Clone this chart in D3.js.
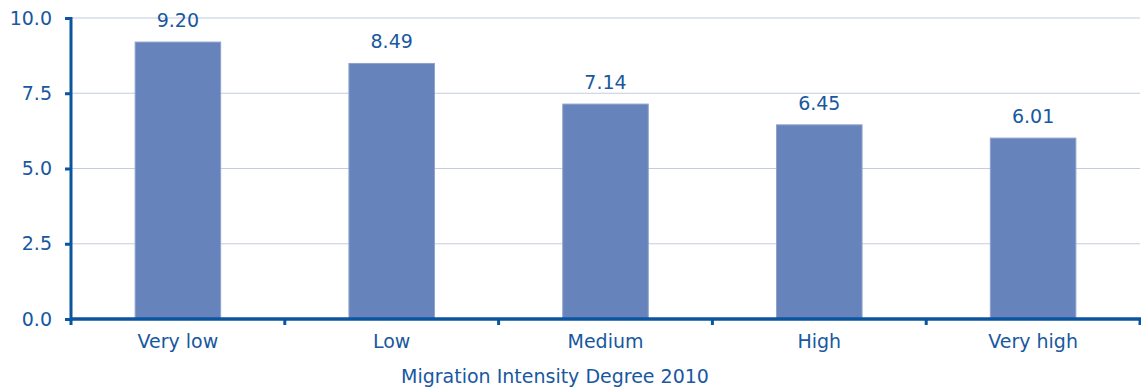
<!DOCTYPE html>
<html>
<head>
<meta charset="utf-8">
<script src="https://cdn.jsdelivr.net/npm/d3@7"></script>
<style>
  html, body { margin: 0; padding: 0; background: #fff; }
  svg { display: block; }
  text { font-family: "DejaVu Sans", Verdana, sans-serif; fill: #1858a0; }
</style>
</head>
<body>
<svg id="chart" width="1141" height="387"></svg>
<script>
// Migration intensity categories and their values
const categories = ["Very low", "Low", "Medium", "High", "Very high"];
const values = [9.20, 8.49, 7.14, 6.45, 6.01];
const yTicks = [0, 2.5, 5, 7.5, 10];
const xTitle = "Migration Intensity Degree 2010";

const svg = d3.select("#chart");
const axisColor = "#0b55a0";
const plotLeft = 71, plotRight = 1140, plotTop = 18, plotBottom = 319;

const x = d3.scaleBand().domain(categories).range([plotLeft, plotRight]).padding(0);
const y = d3.scaleLinear().domain([0, 10]).range([plotBottom, plotTop]);

// horizontal gridlines
svg.append("g").selectAll("line")
  .data(yTicks.filter(d => d > 0))
  .join("line")
  .attr("x1", plotLeft).attr("x2", plotRight)
  .attr("y1", d => y(d)).attr("y2", d => y(d))
  .attr("stroke", "#c4cce0").attr("stroke-width", 1.2);

// bars
const barW = x.bandwidth() * 0.4;
svg.append("g").selectAll("rect")
  .data(values)
  .join("rect")
  .attr("x", (d, i) => x(categories[i]) + (x.bandwidth() - barW) / 2)
  .attr("y", d => y(d))
  .attr("width", barW)
  .attr("height", d => y(0) - y(d))
  .attr("fill", "#6783bb")
  .attr("stroke", "#8ea2cc")
  .attr("stroke-width", 1);

// value labels
svg.append("g").selectAll("text")
  .data(values)
  .join("text")
  .attr("x", (d, i) => x(categories[i]) + x.bandwidth() / 2)
  .attr("y", d => y(d) - 15)
  .attr("text-anchor", "middle")
  .attr("font-size", 19)
  .text(d => d.toFixed(2));

// y axis
const yAxis = d3.axisLeft(y).tickValues(yTicks).tickFormat(d3.format(".1f")).tickSize(6).tickPadding(13);
const gy = svg.append("g").attr("transform", `translate(${plotLeft},0)`).call(yAxis);
gy.select(".domain").attr("stroke", axisColor).attr("stroke-width", 3).attr("d", `M0,${plotTop - 1}V${plotBottom + 2}`);
gy.selectAll(".tick line").attr("stroke", axisColor).attr("stroke-width", 3);
gy.selectAll(".tick text").attr("font-size", 19).attr("fill", "#1858a0").style("font-family", "DejaVu Sans, sans-serif");

// x axis with boundary ticks between categories
const gx = svg.append("g");
gx.append("line")
  .attr("x1", plotLeft - 1).attr("x2", plotRight + 1)
  .attr("y1", plotBottom).attr("y2", plotBottom)
  .attr("stroke", axisColor).attr("stroke-width", 3.5);
const bounds = categories.map(c => x(c)).concat([plotRight]);
gx.selectAll("line.tk")
  .data(bounds)
  .join("line").attr("class", "tk")
  .attr("x1", d => d).attr("x2", d => d)
  .attr("y1", plotBottom).attr("y2", plotBottom + 6)
  .attr("stroke", axisColor).attr("stroke-width", 3);
gx.selectAll("text")
  .data(categories)
  .join("text")
  .attr("x", d => x(d) + x.bandwidth() / 2)
  .attr("y", 348)
  .attr("text-anchor", "middle")
  .attr("font-size", 19)
  .attr("fill", "#2d5fad")
  .text(d => d);

// axis title
svg.append("text")
  .attr("x", 555).attr("y", 383)
  .attr("text-anchor", "middle")
  .attr("font-size", 19)
  .attr("fill", "#2d5fad")
  .text(xTitle);
</script>
</body>
</html>
